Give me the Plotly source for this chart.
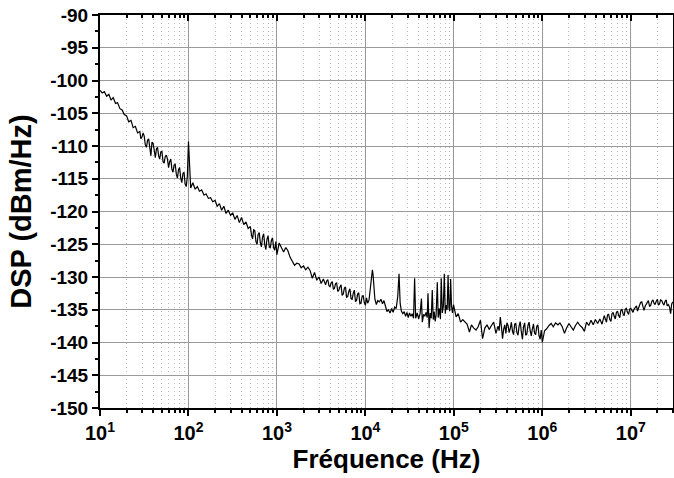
import plotly.graph_objects as go

# Frequency mantissas of the log sweep (one decade, 40 points) and mid-points between them
mantissa = [1.00, 1.06, 1.12, 1.19, 1.26, 1.33, 1.41, 1.50, 1.58, 1.68,
            1.78, 1.88, 2.00, 2.11, 2.24, 2.37, 2.51, 2.66, 2.82, 2.99,
            3.16, 3.35, 3.55, 3.76, 3.98, 4.22, 4.47, 4.73, 5.01, 5.31,
            5.62, 5.96, 6.31, 6.68, 7.08, 7.50, 7.94, 8.41, 8.91, 9.44]
mantissa_mid = [1.03, 1.09, 1.16, 1.22, 1.29, 1.37, 1.46, 1.54, 1.63, 1.73,
                1.83, 1.94, 2.05, 2.17, 2.30, 2.44, 2.58, 2.74, 2.90, 3.07,
                3.25, 3.45, 3.65, 3.87, 4.10, 4.35, 4.60, 4.87, 5.16, 5.46,
                5.79, 6.13, 6.49, 6.88, 7.29, 7.72, 8.18, 8.66, 9.17, 9.72]

# DSP values (dBm/Hz), decade by decade, on the main sweep
dsp_1e1 = [-101.5, -101.9, -101.7, -102.4, -102.1, -103.0, -102.6, -103.5, -103.4, -104.3,
           -104.5, -105.2, -105.4, -106.3, -106.1, -107.2, -107.0, -108.0, -107.8, -108.6,
           -108.5, -110.2, -108.9, -111.5, -109.6, -111.8, -110.2, -112.0, -110.8, -112.6,
           -111.4, -113.3, -112.0, -114.0, -112.8, -114.9, -113.3, -115.6, -114.0, -116.2]
dsp_1e2 = [-109.3, -116.4, -115.6, -116.6, -116.2, -116.9, -116.7, -117.5, -117.3, -118.0,
           -117.9, -118.5, -118.3, -119.2, -118.8, -119.8, -119.2, -120.3, -119.8, -120.6,
           -120.2, -121.2, -120.6, -121.7, -120.9, -122.0, -121.6, -122.6, -122.3, -124.2,
           -122.9, -125.0, -123.2, -125.4, -123.4, -125.8, -123.7, -125.6, -124.0, -125.9]
dsp_1e3 = [-126.6, -124.8, -125.5, -126.2, -125.5, -126.0, -127.0, -127.6, -128.2, -127.9,
           -128.0, -128.6, -128.3, -128.9, -128.5, -129.0, -130.2, -129.3, -130.5, -130.0,
           -131.0, -130.3, -131.2, -130.4, -131.5, -130.7, -131.7, -130.9, -132.0, -131.2,
           -132.6, -131.5, -133.0, -131.8, -133.4, -132.0, -133.6, -132.4, -134.0, -132.8]
freq_1e4 = [10000, 10300, 10600, 11000, 11500, 11800, 12000, 12200, 12500, 12800,
            13300, 13800, 14400, 15000, 15600, 16200, 16900, 17500, 18200, 19000,
            19800, 20600, 21400, 22300, 23200, 24000, 24700, 25500, 26500, 27500,
            28500, 29500, 30500, 31500, 32700, 33800, 35000, 36000, 37000, 38500,
            40000, 41500, 43000, 44000, 45500, 47000, 48500, 50000, 51000, 52500,
            54000, 55500, 57000, 58500, 60000, 61500, 63000, 65000, 66500, 68500,
            70500, 72000, 74000, 76000, 78000, 80000, 82000, 84000, 86000, 88000,
            90000, 92000, 94000, 96500, 99000]
dsp_1e4 = [-134.3, -133.2, -134.0, -133.5, -131.0, -129.5, -128.9, -129.6, -131.5, -133.4,
           -134.2, -133.6, -133.8, -133.4, -134.1, -133.6, -134.5, -135.3, -135.0, -135.5,
           -134.8, -135.4, -134.6, -134.8, -133.0, -129.5, -134.0, -135.2, -135.6, -135.3,
           -136.0, -135.4, -136.2, -135.5, -136.0, -135.6, -136.3, -130.2, -136.3, -135.5,
           -136.4, -135.6, -133.3, -136.9, -135.7, -136.0, -135.4, -136.2, -132.5, -137.8,
           -135.5, -136.3, -132.0, -136.5, -135.3, -136.8, -135.8, -130.8, -136.2, -134.8,
           -136.4, -130.2, -135.5, -134.5, -129.5, -135.6, -134.3, -135.0, -129.7, -134.7,
           -135.2, -130.3, -134.4, -135.5, -134.2]
dsp_1e5 = [-134.5, -136.1, -135.6, -136.9, -136.5, -136.8, -137.2, -138.4, -137.3, -137.8,
           -138.1, -137.6, -136.6, -139.4, -137.8, -137.3, -138.0, -137.4, -136.9, -138.6,
           -137.5, -136.1, -139.4, -137.3, -137.0, -138.5, -136.9, -138.8, -137.1, -138.9,
           -136.8, -139.5, -137.0, -138.7, -136.9, -139.0, -137.2, -138.8, -137.3, -139.5]
dsp_1e6 = [-140.0, -138.2, -137.9, -137.4, -137.1, -137.6, -137.0, -137.3, -137.0, -137.6,
           -138.6, -137.8, -137.1, -137.6, -138.1, -137.4, -136.9, -137.4, -137.7, -138.3,
           -136.9, -137.4, -136.6, -137.3, -136.5, -137.1, -136.4, -137.2, -135.9, -136.9,
           -135.7, -136.8, -135.4, -136.4, -135.2, -136.2, -134.9, -135.9, -134.8, -135.7]
dsp_1e7 = [-134.8, -135.4, -134.6, -135.2, -134.3, -133.8, -135.1, -134.1, -133.6, -134.3,
           -133.5, -134.2, -133.4, -134.1, -133.6, -134.3, -133.5, -134.2, -135.6, -133.8]

# extra samples (on the mid-points) inside the dense, noisy stretches
dense_1e1 = [-108.9, -108.0, -109.8, -109.1, -110.8, -109.4, -110.6, -110.4, -111.5, -110.9,
             -112.4, -111.6, -112.0, -112.4, -113.5, -112.9, -114.3, -113.6, -114.9, -114.2,
             -115.8, -114.6]
dense_1e2 = [-123.6, -122.8, -124.6, -123.5, -124.8, -123.9, -125.1, -124.2, -125.3, -124.4,
             -125.5, -124.6]
dense_1e3 = [-130.6, -131.3, -130.9, -131.9, -131.0, -132.2, -131.5, -132.8, -131.7, -133.1,
             -132.2, -133.3, -132.5, -133.7, -132.6, -134.1, -133.0, -133.9]
dense_1e5 = [-138.2, -137.6, -138.0, -138.6, -137.4, -137.8, -138.3, -137.2, -138.5, -137.5,
             -138.4, -137.6, -138.9, -137.4, -138.2, -137.9, -138.6, -137.5, -138.9, -138.1]
dense_1e6 = [-136.4, -135.8, -136.5, -135.6, -136.0, -135.4, -135.9, -135.1, -135.6, -134.9,
             -135.4, -134.9]
dense_1e7 = [-135.1, -134.9, -134.4, -134.7, -133.9, -134.6, -134.4, -133.8, -134.5, -133.7,
             -134.0, -133.7, -134.3, -133.5, -134.0, -133.7, -134.4, -134.6, -134.1]

x_tickvals = [1e1, 1e2, 1e3, 1e4, 1e5, 1e6, 1e7]
x_ticktext = ["10<sup>1</sup>", "10<sup>2</sup>", "10<sup>3</sup>", "10<sup>4</sup>",
              "10<sup>5</sup>", "10<sup>6</sup>", "10<sup>7</sup>"]
y_tickvals = list(range(-150, -85, 5))
y_ticktext = [str(v) for v in y_tickvals]

# assemble the sweep
pts = []
for dec, vals in ((10, dsp_1e1), (100, dsp_1e2), (1000, dsp_1e3),
                  (1e5, dsp_1e5), (1e6, dsp_1e6), (1e7, dsp_1e7)):
    pts += [(m * dec, v) for m, v in zip(mantissa, vals)]
pts += list(zip(freq_1e4, dsp_1e4))
for dec, start, vals in ((10, 18, dense_1e1), (100, 28, dense_1e2), (1000, 22, dense_1e3),
                         (1e5, 20, dense_1e5), (1e6, 28, dense_1e6), (1e7, 0, dense_1e7)):
    pts += [(m * dec, v) for m, v in zip(mantissa_mid[start:], vals)]
pts.sort()
freq = [p[0] for p in pts]
dsp = [p[1] for p in pts]

FONT = "Liberation Sans, Arial, sans-serif"

fig = go.Figure()
fig.add_trace(go.Scatter(x=freq, y=dsp, mode="lines",
                         line=dict(color="black", width=1.2), showlegend=False))
# invisible trace on the top axis so the inward top ticks are drawn
fig.add_trace(go.Scatter(x=freq[:1], y=dsp[:1], xaxis="x2", mode="lines",
                         line=dict(color="rgba(0,0,0,0)", width=0),
                         showlegend=False, hoverinfo="skip"))

xrange = [1, 7.4771]
fig.update_layout(
    width=674, height=478,
    margin=dict(l=100, r=1, t=15, b=70),
    paper_bgcolor="white", plot_bgcolor="white",
    font=dict(family=FONT, color="black"),
    xaxis=dict(
        type="log", range=xrange, automargin=False,
        tickvals=x_tickvals, ticktext=x_ticktext,
        tickfont=dict(family=FONT, size=20, color="black", weight="bold"),
        ticks="outside", ticklen=6, tickwidth=1.5, tickcolor="black",
        showline=True, linecolor="black", linewidth=2,
        showgrid=True, gridcolor="#9a9a9a", gridwidth=1,
        minor=dict(dtick="D1", ticks="outside", ticklen=3, tickcolor="black",
                   showgrid=True, gridcolor="#bcbcbc", griddash="1px,3px", gridwidth=1),
        title=dict(text="Fréquence (Hz)", font=dict(family=FONT, size=26, weight="bold"),
                   standoff=2),
        zeroline=False,
    ),
    xaxis2=dict(
        type="log", range=xrange, overlaying="x", side="top", automargin=False,
        tickvals=x_tickvals, showticklabels=False,
        ticks="inside", ticklen=6, tickwidth=1.5, tickcolor="black",
        showline=True, linecolor="black", linewidth=2, showgrid=False,
        minor=dict(dtick="D1", ticks="inside", ticklen=3, tickcolor="black", showgrid=False),
    ),
    yaxis=dict(
        range=[-150, -90], automargin=False,
        tickvals=y_tickvals, ticktext=y_ticktext,
        tickfont=dict(family=FONT, size=19, color="black", weight="bold"),
        ticks="outside", ticklen=6, tickwidth=1.5, tickcolor="black",
        showline=True, linecolor="black", linewidth=2, mirror=True,
        showgrid=True, gridcolor="#9a9a9a", gridwidth=1,
        minor=dict(dtick=2.5, ticks="outside", ticklen=3, tickcolor="black", showgrid=False),
        title=dict(text="DSP (dBm/Hz)", font=dict(family=FONT, size=29, weight="bold"),
                   standoff=10),
        zeroline=False,
    ),
)

fig.write_html("out.html", config={"displayModeBar": False},
               post_script="document.body.style.margin='0';")
